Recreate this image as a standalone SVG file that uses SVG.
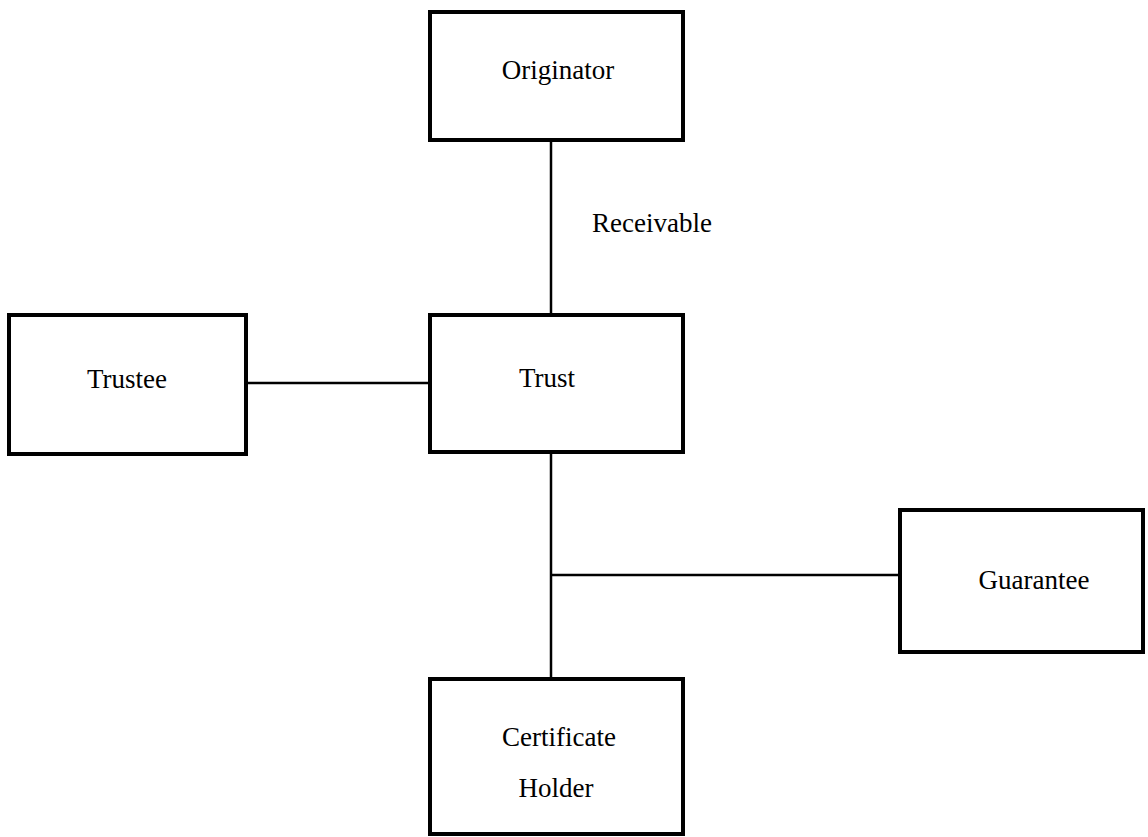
<svg xmlns="http://www.w3.org/2000/svg" width="1148" height="837" viewBox="0 0 1148 837">
<style>
.box{fill:#fff;stroke:#000;stroke-width:4}
.ln{stroke:#000;stroke-width:2.5;fill:none}
text{font-family:"Liberation Serif","Times New Roman",serif;font-size:27px;fill:#000;text-anchor:middle}
</style>
<rect width="1148" height="837" fill="#fff"/>
<g id="connectors">
<line class="ln" x1="551" y1="140" x2="551" y2="315"/>
<line class="ln" x1="246" y1="383" x2="430" y2="383"/>
<line class="ln" x1="551" y1="452" x2="551" y2="679"/>
<line class="ln" x1="551" y1="575" x2="900" y2="575"/>
<text x="652" y="232">Receivable</text>
</g>
<g id="originator"><rect class="box" x="430" y="12" width="253" height="128"/><text x="558" y="79">Originator</text></g>
<g id="trustee"><rect class="box" x="9" y="315" width="237" height="139"/><text x="127" y="388">Trustee</text></g>
<g id="trust"><rect class="box" x="430" y="315" width="253" height="137"/><text x="547" y="387">Trust</text></g>
<g id="guarantee"><rect class="box" x="900" y="510" width="243" height="142"/><text x="1034" y="589">Guarantee</text></g>
<g id="certificate-holder"><rect class="box" x="430" y="679" width="253" height="155"/><text x="559" y="746">Certificate</text><text x="556" y="797">Holder</text></g>
</svg>
